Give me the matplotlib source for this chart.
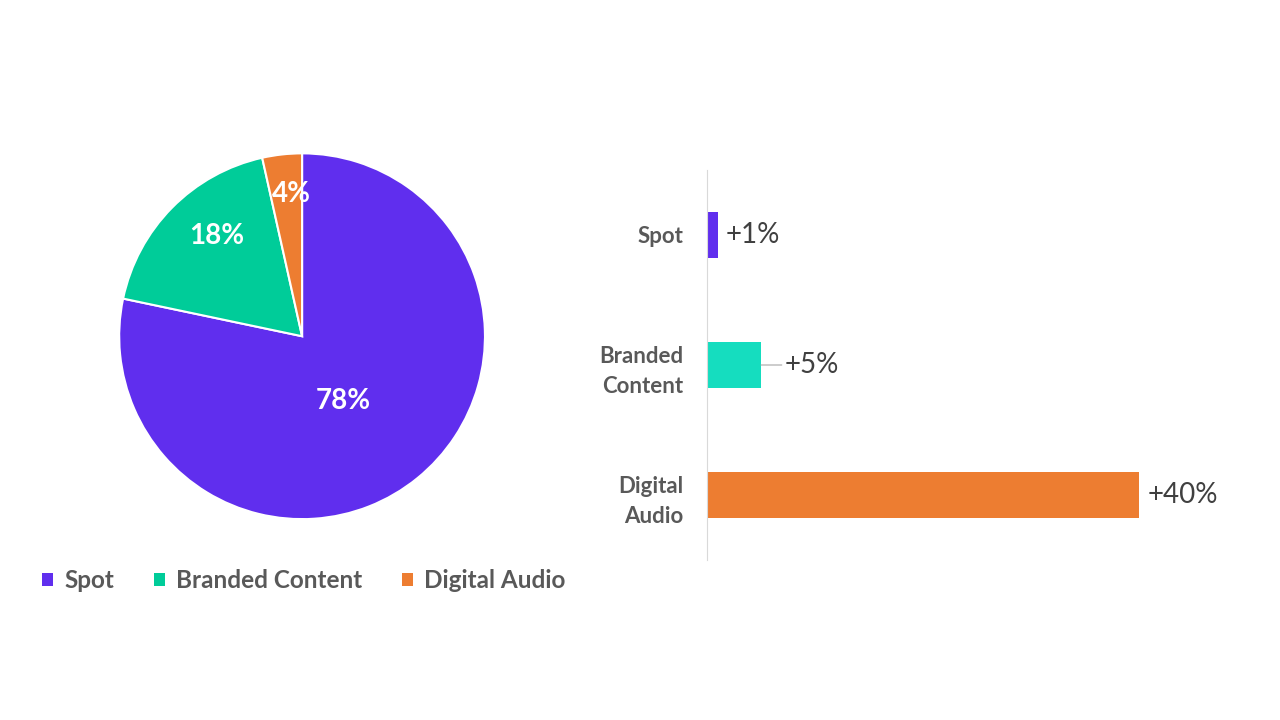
"""
Share of revenue by format (pie) and growth by format (bars).
"""
import numpy as np
import matplotlib
import matplotlib.pyplot as plt
from matplotlib.patches import Patch

font = {'family': ['Lato', 'DejaVu Sans'], 'weight': 'normal', 'size': 12}
matplotlib.rc('font', **font)

# data
formats = ['Spot', 'Branded Content', 'Digital Audio']
share = [78.3, 18.2, 3.5]
bar_labels = ['Spot', 'Branded\nContent', 'Digital\nAudio']
growth = [1, 5, 40]

pie_colors = ['#602EEE', '#00CC99', '#ED7D31']
bar_colors = ['#602EEE', '#15DDBF', '#ED7D31']
gray = '#595959'

fig = plt.figure(figsize=(12.8, 7.2), dpi=100, facecolor='white')

# pie
ax_pie = fig.add_axes([0.093, 0.279, 0.286, 0.508])
wedges, _ = ax_pie.pie(share, colors=pie_colors, startangle=90, counterclock=False,
                       wedgeprops={'edgecolor': 'white', 'linewidth': 1.5})
ax_pie.set_xlim(-1, 1)
ax_pie.set_ylim(-1, 1)
ax_pie.set_aspect('equal')
label_r = [0.42, 0.72, 0.78]
label_shift = [-7, -5, -2]
for w, val, r, sh in zip(wedges, share, label_r, label_shift):
    ang = np.deg2rad((w.theta1 + w.theta2) / 2 + sh)
    ax_pie.text(r * np.cos(ang), r * np.sin(ang), '%.0f%%' % val, color='white',
                fontsize=20, fontweight='bold', ha='center', va='center')

handles = [Patch(facecolor=c, edgecolor='none') for c in pie_colors]
fig.legend(handles, formats, loc='center left', bbox_to_anchor=(0.016, 0.194),
           ncol=3, frameon=False, handlelength=0.45, handleheight=0.45,
           handletextpad=0.45, columnspacing=1.65,
           prop={'size': 17.5, 'weight': 'bold'}, labelcolor=gray)

# bars
ax_bar = fig.add_axes([0.5523, 0.2222, 0.4219, 0.5417])
y = np.arange(len(growth))
ax_bar.barh(y, growth, height=0.36, color=bar_colors)
ax_bar.set_xlim(0, 50)
ax_bar.set_ylim(2.5, -0.5)
ax_bar.set_yticks(y)
ax_bar.set_yticklabels(bar_labels, fontsize=16, fontweight='bold', color=gray,
                       ha='right', linespacing=1.5)
ax_bar.tick_params(axis='y', length=0, pad=17)
ax_bar.set_xticks([])
for s in ['top', 'right', 'bottom']:
    ax_bar.spines[s].set_visible(False)
ax_bar.spines['left'].set_color('#D9D9D9')

for i, g in enumerate(growth):
    if i == 1:
        # leader line for the offset label
        ax_bar.annotate('+%d%%' % g, xy=(g, i), xytext=(17, 0), textcoords='offset points',
                        fontsize=20, color='#404040', ha='left', va='center',
                        arrowprops={'arrowstyle': '-', 'color': '#A6A6A6', 'lw': 0.8,
                                    'shrinkA': 0, 'shrinkB': 0})
    else:
        ax_bar.annotate('+%d%%' % g, xy=(g, i), xytext=(6, 0), textcoords='offset points',
                        fontsize=20, color='#404040', ha='left', va='center')

plt.savefig('out.png', dpi=100, facecolor='white')
plt.close()
